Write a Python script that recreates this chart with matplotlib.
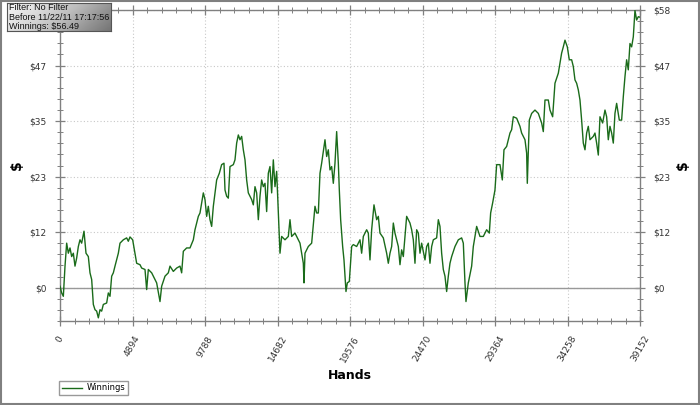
import numpy as np
import matplotlib
matplotlib.use("Agg")
import matplotlib.pyplot as plt
from matplotlib.ticker import FixedLocator, AutoMinorLocator
from matplotlib.patches import Rectangle

# cumulative winnings (hand number, dollars)
hands = [0, 112, 225, 338, 450, 562, 675, 788, 900, 1012, 1125, 1238, 1350, 1462, 1620,
         1755, 1912, 2025, 2138, 2250, 2362, 2475, 2588, 2700, 2812, 2925, 3150, 3262, 3375,
         3488, 3600, 3712, 3938, 4050, 4275, 4500, 4612, 4725, 4905, 5062, 5175, 5400, 5512,
         5738, 5850, 5962, 6188, 6412, 6525, 6750, 6862, 7088, 7312, 7425, 7650, 7875, 8100,
         8212, 8325, 8550, 8775, 9000, 9112, 9225, 9338, 9450, 9675, 9788, 9900, 10012,
         10125, 10238, 10350, 10462, 10575, 10755, 10912, 11070, 11138, 11250, 11362, 11475,
         11700, 11812, 11925, 12038, 12150, 12262, 12375, 12488, 12600, 12712, 12938, 13050,
         13162, 13275, 13388, 13500, 13612, 13725, 13838, 13950, 14062, 14175, 14288, 14400,
         14512, 14625, 14738, 14850, 14962, 15188, 15412, 15525, 15638, 15862, 16088, 16200,
         16425, 16470, 16538, 16762, 16988, 17212, 17325, 17438, 17550, 17662, 17888, 18000,
         18112, 18225, 18338, 18450, 18562, 18675, 18788, 18855, 18945, 19080, 19170, 19305,
         19395, 19530, 19688, 19800, 20025, 20250,
         20362, 20475, 20700, 20812, 20925, 21038, 21195, 21375, 21488, 21600, 21825, 22050,
         22162, 22275, 22388, 22500, 22612, 22838, 22950, 23062, 23175, 23400, 23625, 23738,
         23850, 23962, 24075, 24188, 24300, 24412, 24638, 24750, 24862, 24975, 25088, 25200,
         25425, 25538, 25650, 25762, 25875, 25988, 26100, 26212, 26325, 26438, 26662, 26888,
         27112, 27225, 27338, 27405, 27562, 27788, 27900, 28125, 28350, 28575, 28800, 28980,
         29070, 29205, 29362, 29475, 29700, 29858, 29970, 30150, 30375, 30488, 30600, 30825,
         31050, 31162, 31388, 31500, 31545, 31680, 31838, 32062, 32288, 32512, 32625, 32738,
         32962, 33075, 33255, 33412, 33638, 33862, 33975, 34088, 34245, 34380, 34538, 34650,
         34762, 34875, 34988, 35100, 35212, 35325, 35438, 35550, 35662, 35775, 36000, 36112,
         36225, 36338, 36450, 36630, 36788, 36900, 37012, 37125, 37238, 37350, 37462, 37575,
         37755, 37912, 38025, 38138, 38250, 38362, 38475, 38588, 38700, 38812, 38925, 39038,
         39152]
winnings = [0.3, -1.1, -1.8, 4.5, 9.3, 7.2, 8.3, 6.5, 7.2, 4.5, 6.2, 8.6, 10.0, 9.3, 11.8,
            7.2, 6.5, 3.1, 1.7, -3.5, -4.6, -4.9, -6.3, -4.6, -4.9, -3.5, -3.2, -1.1, -1.8,
            2.4, 3.1, 4.5, 7.2, 9.3, 10.0, 10.4, 9.7, 10.6, 10.0, 7.2, 5.1, 4.8, 4.1,
            3.8, -0.4, 3.8, 3.1, 1.7, 1.0, -2.9, 0.3, 2.4, 3.1, 4.5, 3.4, 4.1, 4.5,
            3.1, 7.6, 8.3, 8.3, 10.0, 12.1, 13.5, 14.9, 15.6, 19.8, 18.4, 14.9, 17.0,
            14.2, 12.8, 17.0, 19.8, 22.5, 23.9, 25.7, 26.0, 20.4, 19.1, 18.7, 25.3,
            25.7, 26.7, 30.2, 31.9, 30.9, 31.6, 28.8, 26.7, 22.5, 19.8, 18.4, 17.3,
            21.1, 19.8, 14.2, 19.1, 22.5, 21.1, 21.8, 15.9, 23.9, 25.3, 19.8, 26.7,
            21.1, 24.3, 15.6, 7.2, 10.7, 10.0, 10.7, 14.2, 10.7, 11.4, 10.0, 9.3,
            5.1, 1.0, 7.2, 8.6, 9.3, 17.0, 15.6, 15.6, 23.9, 26.0, 30.9, 27.4,
            28.8, 24.6, 25.3, 21.8, 26.0, 32.6, 26.0, 20.4, 14.2, 8.6, 5.8, -0.8,
            1.0, 1.3, 8.6, 9.0, 8.6, 10.0,
            7.2, 10.7, 12.1, 11.4, 5.8, 12.1, 17.3, 14.2, 14.9, 11.4, 10.4, 7.2,
            5.1, 7.2, 8.6, 13.5, 11.4, 8.6, 4.8, 7.9, 6.5, 14.9, 13.5, 12.1,
            10.0, 5.1, 12.1, 11.4, 7.2, 9.3, 5.8, 8.6, 9.3, 5.1, 8.6, 10.0,
            10.4, 14.2, 12.8, 7.2, 3.8, 2.4, -0.8, 2.4, 5.1, 6.5, 8.6, 10.0,
            10.4, 9.3, 1.0, -2.9, 1.0, 4.5, 8.6, 12.8, 10.7, 10.7, 12.1, 11.4,
            15.6, 17.7, 20.4, 25.7, 25.7, 22.5, 28.8, 29.5, 32.3, 33.0, 35.7, 35.4,
            33.7, 32.3, 30.9, 28.1, 21.8, 35.0, 36.4, 37.1, 36.4, 34.4, 32.6, 39.2,
            39.2, 37.1, 35.7, 42.7, 44.8, 49.0, 50.3, 51.7, 50.3, 47.6, 47.6, 46.2,
            43.4, 42.7, 41.3, 39.2, 35.0, 30.2, 28.8, 32.3, 33.7, 30.9, 31.6, 32.3,
            30.2, 27.7, 35.7, 34.4, 37.1, 35.7, 30.9, 33.7, 32.3, 30.2, 36.4, 38.5,
            35.0, 35.0, 39.9, 44.1, 47.6, 45.5, 51.0, 50.3, 52.4, 57.9, 55.9, 56.6,
            56.49]

x_ticks = [0, 4894, 9788, 14682, 19576, 24470, 29364, 34258, 39152]
y_ticks = [0, 11.6, 23.2, 34.8, 46.4, 58.0]
y_labels = ["$0", "$12", "$23", "$35", "$47", "$58"]
info_lines = ["Filter: No Filter", "Before 11/22/11 17:17:56", "Winnings: $56.49"]

green = "#1a6b1a"
axis_gray = "#808080"

fig = plt.figure(figsize=(7, 4.05), dpi=100)
ax = fig.add_axes([60 / 700, 84 / 405, 580 / 700, 311 / 405])

ax.plot(hands, winnings, color=green, lw=1.0, label="Winnings", zorder=3)
ax.axhline(0, color="#999999", lw=1.0, zorder=2)

ax.set_xlim(0, 39152)
ax.set_ylim(-6.96, 58)
ax.xaxis.set_major_locator(FixedLocator(x_ticks))
ax.xaxis.set_minor_locator(AutoMinorLocator(5))
ax.yaxis.set_major_locator(FixedLocator(y_ticks))
ax.yaxis.set_minor_locator(AutoMinorLocator(5))
ax.set_xticklabels([str(t) for t in x_ticks], rotation=60, fontsize=6.5, color="#333333")
ax.set_yticklabels(y_labels, fontsize=6.5, color="#333333")

ax.grid(True, which="major", color="#c8c8c8", ls=(0, (1, 2)), lw=0.8, zorder=1)

for s in ax.spines.values():
    s.set_color(axis_gray)
    s.set_linewidth(1.0)

ax.tick_params(which="both", color=axis_gray, labelright=True, right=True, top=True)
ax.tick_params(which="major", length=7, width=0.9, direction="inout", pad=6)
ax.tick_params(which="minor", length=5, width=0.7, direction="inout")
ax.tick_params(axis="x", which="both", top=True, labeltop=False)
# the info box covers the left $58 label in the original
ax.yaxis.get_major_ticks()[-1].label1.set_visible(False)

ax.set_xlabel("Hands", fontsize=9, fontweight="bold", labelpad=4)
ax.set_ylabel("$", fontsize=10, fontweight="bold", labelpad=4)
ax2 = ax.secondary_yaxis("right")
ax2.set_yticks([])
ax2.spines["right"].set_visible(False)
ax2.set_ylabel("$", fontsize=10, fontweight="bold", labelpad=26)

# gray info box, top left
box = fig.add_axes([7 / 700, 374 / 405, 104 / 700, 28 / 405], zorder=5)
grad = np.linspace(0, 1, 256)
img = np.add.outer(grad * 0.3, grad)
box.imshow(img, cmap="Greys", vmin=-0.2, vmax=2.2, aspect="auto", extent=(0, 1, 0, 1))
box.set_xticks([])
box.set_yticks([])
for s in box.spines.values():
    s.set_color("#555555")
box.text(0.02, 0.5, "\n".join(info_lines), fontsize=6.5, family="Liberation Sans",
         va="center", ha="left", linespacing=1.05, color="#111111")

fig.legend(loc="lower left", bbox_to_anchor=(59 / 700, 10 / 405), fontsize=6,
           frameon=True, fancybox=False, edgecolor=axis_gray, borderpad=0.3,
           handlelength=2.4, handletextpad=0.6, borderaxespad=0)

fig.patches.append(Rectangle((0.001, 0.002), 0.997, 0.995, transform=fig.transFigure,
                             fill=False, edgecolor=axis_gray, lw=1.5))

fig.savefig("out.png", dpi=100)
